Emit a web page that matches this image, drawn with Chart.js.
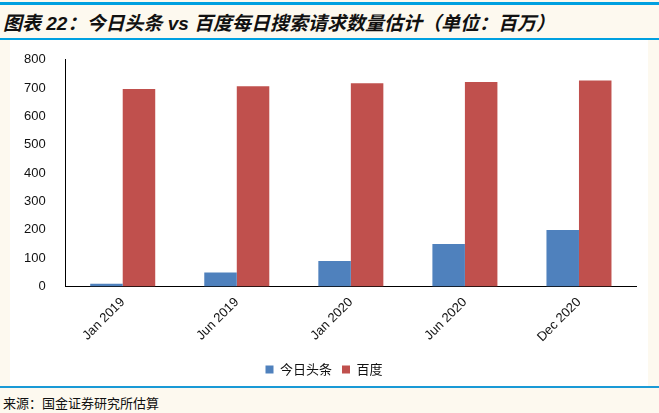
<!DOCTYPE html>
<html><head><meta charset="utf-8">
<script src="https://cdn.jsdelivr.net/npm/chart.js@4"></script>
<style>
body{margin:0;width:659px;height:413px;background:#fdf9ef;position:relative;overflow:hidden;font-family:"Liberation Sans","Noto Sans CJK SC",sans-serif}
#t1{position:absolute;left:0;top:2px;width:659px;height:3px;background:#00a0e0}
#title{position:absolute;left:3px;top:8px;font-size:19px;font-weight:bold;font-style:italic;color:#111}
#t2{position:absolute;left:0;top:38px;width:659px;height:2px;background:#00a0e0}
#panel{position:absolute;left:10px;top:40px;width:638px;height:346px;background:#fff}
#t3{position:absolute;left:0;top:386px;width:659px;height:2px;background:#1a9ad6}
#src{position:absolute;left:3px;top:393px;font-size:13px;color:#111;font-family:"Noto Sans CJK SC",sans-serif}
</style></head><body>
<div id="t1"></div><div id="title">图表 22：今日头条 vs 百度每日搜索请求数量估计（单位：百万）</div><div id="t2"></div>
<div id="panel"><canvas id="myChart" width="638" height="346"></canvas></div>
<div id="t3"></div><div id="src">来源：国金证券研究所估算</div>
<script>
var labels = ['Jan 2019', 'Jun 2019', 'Jan 2020', 'Jun 2020', 'Dec 2020'];
var toutiao = [10, 50, 90, 150, 200];
var baidu = [697, 707, 717, 722, 727];
var yTicks = [0, 100, 200, 300, 400, 500, 600, 700, 800];

var ctx = document.getElementById('myChart').getContext('2d');
Chart.defaults.font.family = '"Liberation Sans", "Noto Sans CJK SC", sans-serif';
Chart.defaults.color = '#111';
var myChart = new Chart(ctx, {
    type: 'bar',
    data: {
        labels: labels,
        datasets: [{
            label: '今日头条',
            data: toutiao,
            backgroundColor: '#4f81bd'
        }, {
            label: '百度',
            data: baidu,
            backgroundColor: '#c0504d'
        }]
    },
    options: {
        responsive: false,
        animation: false,
        layout: { padding: { left: 2, right: 12, top: 10, bottom: 0 } },
        datasets: { bar: { categoryPercentage: 0.57, barPercentage: 1 } },
        scales: {
            x: {
                grid: { display: false, drawTicks: false },
                border: { color: '#000' },
                ticks: { maxRotation: 45, minRotation: 45, font: { size: 13 }, padding: 8 }
            },
            y: {
                min: 0, max: 800,
                afterBuildTicks: function (axis) { axis.ticks = yTicks.map(v => ({ value: v })); },
                grid: { display: false },
                border: { color: '#000' },
                ticks: { font: { size: 13 }, padding: 12 }
            }
        },
        plugins: {
            legend: {
                position: 'bottom',
                labels: { boxWidth: 8, boxHeight: 8, font: { size: 13, family: '"Noto Sans CJK SC", sans-serif' }, padding: 10 }
            },
            tooltip: { enabled: false }
        }
    }
});
</script>
</body></html>
